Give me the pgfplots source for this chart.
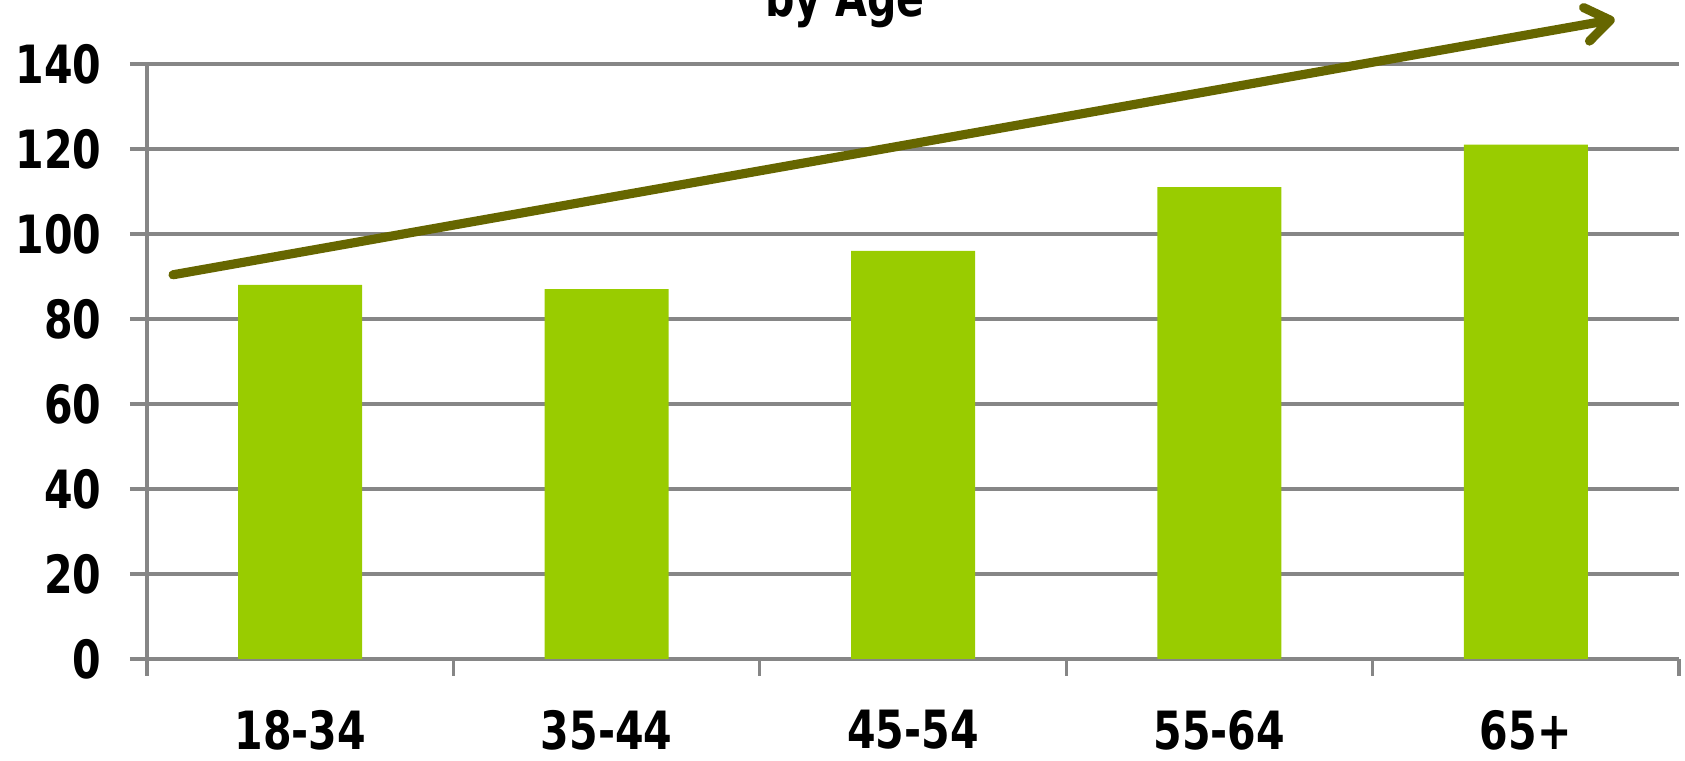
\documentclass[border=0pt]{standalone}
\usepackage{fontspec}
\setmainfont{DejaVu Sans}[FakeStretch=0.78]
\usepackage{pgfplots}
\pgfplotsset{compat=1.18}
\usetikzlibrary{arrows.meta}
\definecolor{barg}{HTML}{99CC00}
\definecolor{gridg}{HTML}{868686}
\definecolor{olivearr}{HTML}{666600}
\begin{document}
\begin{tikzpicture}
\begin{axis}[
  scale only axis,
  width=15.32cm, height=5.95cm,
  at={(0,0)}, anchor=origin,
  xmin=-0.5, xmax=4.5,
  ymin=0, ymax=140,
  clip=false,
  axis x line*=bottom, axis y line*=left,
  axis line style={gridg, line width=0.9pt, -},
  xtick={-0.5,0.5,1.5,2.5,3.5,4.5},
  x tick label as interval,
  xticklabels={18-34,35-44,45-54,55-64,65+},
  xtick pos=bottom, ytick pos=left,
  major tick length=0.17cm,
  ytick={0,20,...,140},
  ymajorgrids=true, xmajorgrids=false,
  grid style={gridg, line width=0.9pt},
  tick style={gridg, line width=0.9pt},
  tick align=outside,
  /pgf/number format/assume math mode=true,
  ticklabel style={font=\bfseries\fontsize{15}{18}\selectfont, black},
  yticklabel style={xshift=-0.16cm},
  xticklabel style={yshift=-0.22cm},
]
\addplot[ybar, bar width=1.24cm, fill=barg, draw=none] coordinates {(0,88) (1,87) (2,96) (3,111) (4,121)};
\addplot[olivearr, line width=2.6pt, line cap=round, -{Straight Barb[length=0.24cm, width=0.34cm, round]}] coordinates {(-0.415,90.4) (4.29,150.5)};
\node[anchor=base, font=\bfseries\fontsize{15}{18}\selectfont] at (rel axis cs:0.4556,1) [yshift=0.47cm] {by Age};
\coordinate (bl) at (rel axis cs:0,0);
\coordinate (tr) at (rel axis cs:1,1);
\end{axis}
\pgfresetboundingbox
\path[use as bounding box] ([xshift=-1.47cm,yshift=-1.02cm]bl) rectangle ([xshift=0.06cm,yshift=0.64cm]tr);
\end{tikzpicture}
\end{document}
